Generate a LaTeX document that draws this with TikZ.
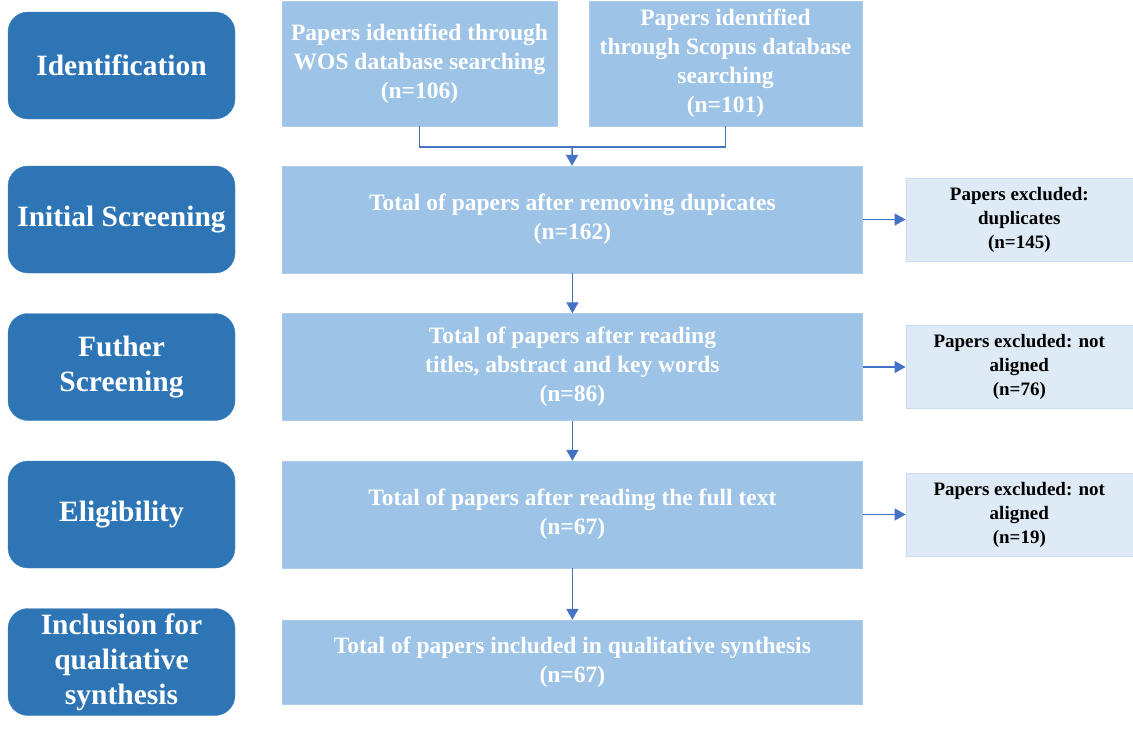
\documentclass[tikz,border=0pt]{standalone}
\usepackage{fontspec}
\setmainfont{Liberation Serif}
\usetikzlibrary{arrows.meta,positioning}
\definecolor{stagefill}{HTML}{2E75B6}
\definecolor{mainfill}{HTML}{9DC3E6}
\definecolor{exclfill}{HTML}{DEEBF7}
\definecolor{exclline}{HTML}{C9DCF0}
\definecolor{arrowblue}{HTML}{4472C4}

\begin{document}
\begin{tikzpicture}[x=1pt,y=-1pt, every node/.style={font=\bfseries,align=center,inner sep=2pt},
  stage/.style={rounded corners=20pt,fill=stagefill,draw=stagefill!90!white,text=white,
    minimum width=227pt,minimum height=107pt,font=\bfseries\fontsize{29.5}{35}\selectfont},
  mainbox/.style={fill=mainfill,draw=mainfill!85!white,text=white,minimum width=580pt,
    minimum height=107pt,font=\bfseries\fontsize{23.5}{29}\selectfont},
  srcbox/.style={mainbox,minimum height=125pt},
  exclbox/.style={fill=exclfill,draw=exclline,text=black,minimum width=227pt,minimum height=83pt,
    font=\bfseries\fontsize{19}{24}\selectfont},
  arr/.style={-{Triangle[length=11pt,width=12pt]},draw=arrowblue,line width=1.5pt},
  link/.style={draw=arrowblue,line width=1.5pt}]
  \useasboundingbox (0,0) rectangle (1133,729);
  % stages on the left
  \node[stage] (ident) at (121.5,65.5) {Identification};
  \node[stage] (initst) at (121.5,219.5) {Initial Screening};
  \node[stage] (furtherst) at (121.5,367) {Futher\\Screening};
  \node[stage] (eligst) at (121.5,514.5) {Eligibility};
  \node[stage] (inclst) at (121.5,662) {Inclusion for\\qualitative\\synthesis};
  % sources
  \node[srcbox,minimum width=275pt] (wos) at (419.5,63.5) {Papers identified through\\WOS database searching\\(n=106)};
  \node[srcbox,minimum width=273pt] (scopus) at (725.5,63.5) {Papers identified\\through Scopus database\\searching\\(n=101)};
  % main flow
  \node[mainbox,right=47pt of initst] (dedup) {Total of papers after removing dupicates\\(n=162)};
  \node[mainbox,right=47pt of furtherst] (titles) {Total of papers after reading\\titles, abstract and key words\\(n=86)};
  \node[mainbox,right=47pt of eligst] (fulltext) {Total of papers after reading the full text\\(n=67)};
  \node[mainbox,right=47pt of inclst,minimum height=84pt] (included) {Total of papers included in qualitative synthesis\\(n=67)};
  % exclusions
  \node[exclbox,right=43pt of dedup] (exdup) {Papers excluded:\\duplicates\\(n=145)};
  \node[exclbox,right=43pt of titles] (extitles) {Papers excluded: not\\aligned\\(n=76)};
  \node[exclbox,right=43pt of fulltext] (exfull) {Papers excluded: not\\aligned\\(n=19)};
  \coordinate (merge) at (572,147);
  \draw[link] (wos.south) |- (merge) -| (scopus.south); \draw[arr] (merge)--(dedup);
  \draw[arr] (dedup)--(titles); \draw[arr] (titles)--(fulltext); \draw[arr] (fulltext)--(included);
  \draw[arr] (dedup)--(exdup); \draw[arr] (titles)--(extitles); \draw[arr] (fulltext)--(exfull);
\end{tikzpicture}
\end{document}
